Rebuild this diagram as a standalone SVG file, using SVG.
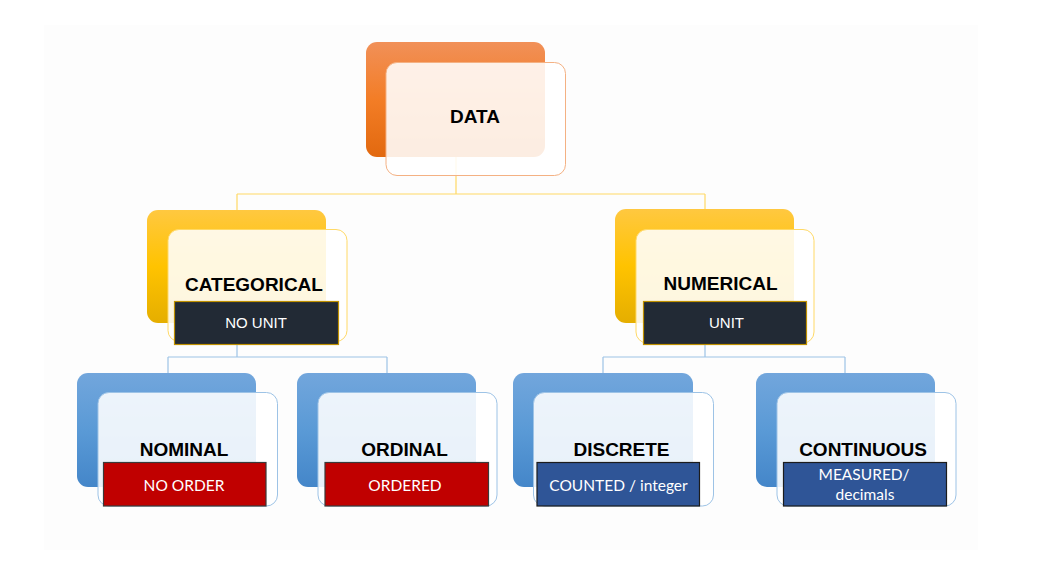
<svg xmlns="http://www.w3.org/2000/svg" width="1039" height="582" viewBox="0 0 1039 582">
  <defs>
    <linearGradient id="gOrange" x1="0" y1="0" x2="0" y2="1">
      <stop offset="0" stop-color="#f19058"/>
      <stop offset="0.5" stop-color="#f37d26"/>
      <stop offset="1" stop-color="#e2690f"/>
    </linearGradient>
    <linearGradient id="gYellow" x1="0" y1="0" x2="0" y2="1">
      <stop offset="0" stop-color="#ffc840"/>
      <stop offset="0.5" stop-color="#ffc300"/>
      <stop offset="1" stop-color="#e5ae00"/>
    </linearGradient>
    <linearGradient id="gBlue" x1="0" y1="0" x2="0" y2="1">
      <stop offset="0" stop-color="#72a6dc"/>
      <stop offset="0.5" stop-color="#5a9ad6"/>
      <stop offset="1" stop-color="#4486c9"/>
    </linearGradient>
  </defs>
  <style>
    .front { fill: #ffffff; fill-opacity: 0.88; stroke-width: 1; }
    .fo { stroke: #f4b183; }
    .fy { stroke: #ffd966; }
    .fb { stroke: #9dc3e6; }
    .title { font-family: "Liberation Sans", Arial, sans-serif; font-weight: bold; font-size: 19px; fill: #000; text-anchor: middle; }
    .sub { font-family: "Liberation Sans", Arial, sans-serif; font-size: 15px; fill: #ffffff; text-anchor: middle; }
    .sub2 { font-family: Lato, "Open Sans", sans-serif; font-size: 15.5px; fill: #ffffff; text-anchor: middle; }
    .dark { fill: #222a35; stroke: #bf9000; stroke-width: 1.2; }
    .red { fill: #c00000; stroke: #3a3a3a; stroke-width: 1.2; }
    .navy { fill: #2f5597; stroke: #1c1c1c; stroke-width: 1.2; }
    .cy { fill: none; stroke: #ffd966; stroke-width: 1.2; }
    .cb { fill: none; stroke: #9dc3e6; stroke-width: 1.2; }
  </style>

  <rect x="44" y="25" width="934" height="525" fill="#fdfdfd"/>

  <g id="connectors">
    <path class="cy" d="M456,157 V194 M237,194 H705 M237,194 V210 M705,194 V209"/>
    <path class="cb" d="M237,323 V357 M168,357 H387 M168,357 V373 M387,357 V373"/>
    <path class="cb" d="M705,323 V357 M603,357 H845 M603,357 V373 M845,357 V373"/>
  </g>

  <g id="data">
    <rect x="366" y="42" width="179" height="115" rx="11" fill="url(#gOrange)"/>
    <rect class="front fo" x="386" y="62.5" width="179.5" height="113" rx="11"/>
    <text class="title" x="475" y="123">DATA</text>
  </g>

  <g id="categorical">
    <rect x="147" y="210" width="179" height="113" rx="11" fill="url(#gYellow)"/>
    <rect class="front fy" x="168" y="229.5" width="179" height="112" rx="11"/>
    <text class="title" x="254" y="291">CATEGORICAL</text>
    <rect class="dark" x="174.5" y="301.5" width="164" height="43"/>
    <text class="sub" x="256" y="328">NO UNIT</text>
  </g>

  <g id="numerical">
    <rect x="615" y="209" width="179" height="114" rx="11" fill="url(#gYellow)"/>
    <rect class="front fy" x="636" y="229.5" width="178" height="113.5" rx="11"/>
    <text class="title" x="720.5" y="290">NUMERICAL</text>
    <rect class="dark" x="643.5" y="301.5" width="163" height="43"/>
    <text class="sub" x="726.5" y="328">UNIT</text>
  </g>

  <g id="nominal">
    <rect x="77" y="373" width="179" height="114" rx="11" fill="url(#gBlue)"/>
    <rect class="front fb" x="98" y="392.5" width="179.5" height="113.5" rx="11"/>
    <text class="title" x="184" y="456">NOMINAL</text>
    <rect class="red" x="103.5" y="462.5" width="162.5" height="43.5"/>
    <text class="sub2" x="184" y="491">NO ORDER</text>
  </g>

  <g id="ordinal">
    <rect x="297" y="373" width="179" height="114" rx="11" fill="url(#gBlue)"/>
    <rect class="front fb" x="318" y="392.5" width="179" height="113.5" rx="11"/>
    <text class="title" x="404.5" y="456">ORDINAL</text>
    <rect class="red" x="325" y="462.5" width="163.5" height="43.5"/>
    <text class="sub2" x="405" y="491">ORDERED</text>
  </g>

  <g id="discrete">
    <rect x="513" y="373" width="180" height="114" rx="11" fill="url(#gBlue)"/>
    <rect class="front fb" x="533.5" y="392.5" width="180" height="113.5" rx="11"/>
    <text class="title" x="621.5" y="456">DISCRETE</text>
    <rect class="navy" x="537" y="462.5" width="162.5" height="43.5"/>
    <text class="sub2" x="618.5" y="491">COUNTED / integer</text>
  </g>

  <g id="continuous">
    <rect x="756" y="373" width="179" height="114" rx="11" fill="url(#gBlue)"/>
    <rect class="front fb" x="777" y="392.5" width="179" height="113.5" rx="11"/>
    <text class="title" x="863" y="456">CONTINUOUS</text>
    <rect class="navy" x="783.5" y="462.5" width="163" height="43.5"/>
    <text class="sub2" x="864" y="479.5">MEASURED/</text>
    <text class="sub2" x="865" y="500">decimals</text>
  </g>
</svg>
